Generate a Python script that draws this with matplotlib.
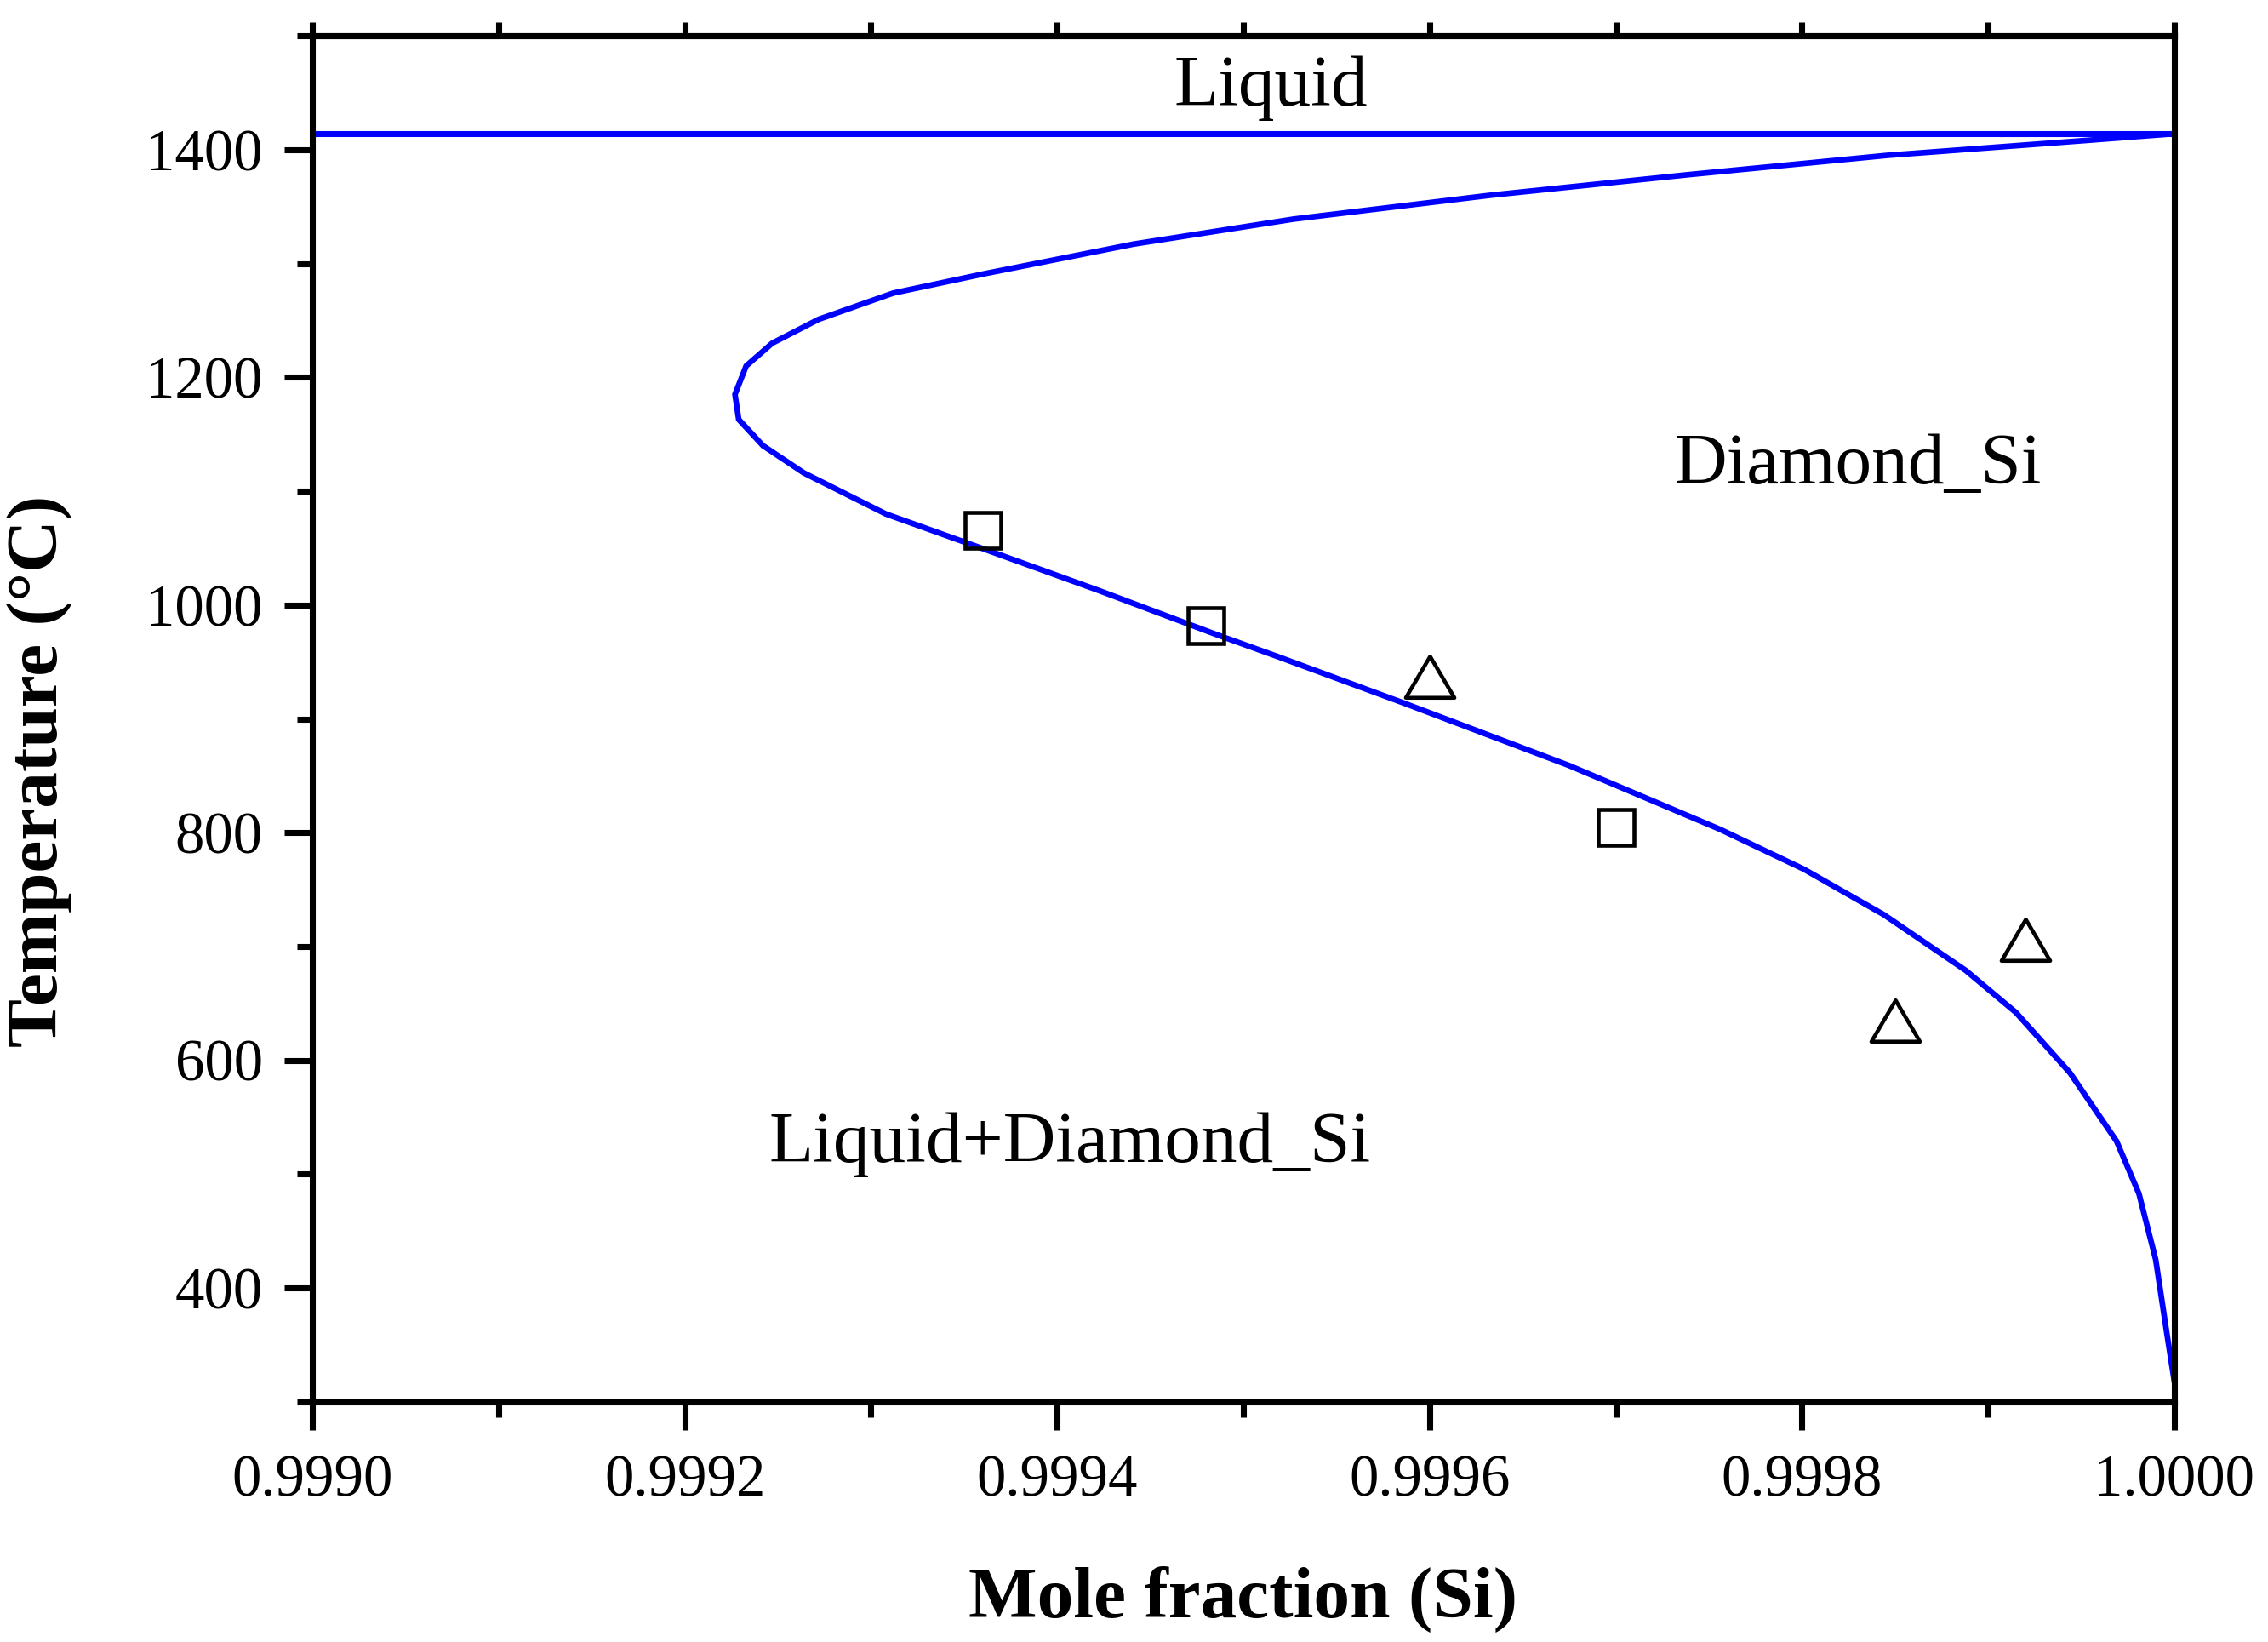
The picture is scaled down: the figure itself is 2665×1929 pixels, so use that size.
import matplotlib
matplotlib.use("Agg")
import matplotlib.pyplot as plt
import numpy as np
from matplotlib.path import Path
from matplotlib.ticker import MultipleLocator, FormatStrFormatter

plt.rcParams['font.family'] = ['Liberation Serif', 'DejaVu Serif']

# solidus of Diamond_Si (lower branch up through the nose to the top)
solidus_x = [1.000000, 0.999996, 0.999990, 0.999981, 0.999969, 0.999944, 0.999915,
             0.999888, 0.999844, 0.999801, 0.999756, 0.999675, 0.999586, 0.999518,
             0.999484, 0.999422, 0.999361, 0.999308, 0.999264, 0.999242, 0.999229,
             0.999227, 0.999233, 0.999247, 0.999272, 0.999312, 0.999361, 0.999441,
             0.999527, 0.999633, 0.999739, 0.999846, 0.999952, 1.000000]
solidus_t = [318, 360, 425, 483, 529, 589, 642,
             679, 728, 768, 803, 859, 914, 955,
             975, 1013, 1049, 1080, 1116, 1140, 1163,
             1185, 1210, 1230, 1251, 1274, 1291, 1317,
             1339, 1360, 1378, 1395, 1408, 1414]

# liquidus (Si melting point)
liquidus_x = [0.9990, 1.0000]
liquidus_t = [1414, 1414]

# experimental points
square_x = [0.99936, 0.99948, 0.99970]
square_t = [1066, 982, 805]
triangle_x = [0.99960, 0.99985, 0.99992]
triangle_t = [937, 635, 706]

DPI = 300
fig = plt.figure(figsize=(2665 / DPI, 1929 / DPI), dpi=DPI)
ax = fig.add_axes([0.1377, 0.1462, 0.8210, 0.8320])

ax.plot(liquidus_x, liquidus_t, color='#0000ff', lw=1.7, solid_capstyle='butt')
ax.plot(solidus_x, solidus_t, color='#0000ff', lw=1.6, solid_joinstyle='miter')

ax.plot(square_x, square_t, ls='none', marker='s', ms=10, mfc='none',
        mec='black', mew=1.1)
# slightly flattened open triangle
tri = Path([(-1, -0.85), (1, -0.85), (0, 0.85), (-1, -0.85)],
           [Path.MOVETO, Path.LINETO, Path.LINETO, Path.CLOSEPOLY])
ax.plot(triangle_x, triangle_t, ls='none', marker=tri, ms=13.7, mfc='none',
        mec='black', mew=1.1)

ax.text(0.999515, 1439, 'Liquid', fontsize=20.5, ha='center', va='baseline')
ax.text(0.99983, 1107, 'Diamond_Si', fontsize=20.5, ha='center', va='baseline')
ax.text(0.999407, 511, 'Liquid+Diamond_Si', fontsize=20.5, ha='center', va='baseline')

ax.set_xlim(0.9990, 1.0000)
ax.set_ylim(300, 1500)

ax.xaxis.set_major_locator(MultipleLocator(0.0002))
ax.xaxis.set_minor_locator(MultipleLocator(0.0001))
ax.xaxis.set_major_formatter(FormatStrFormatter('%.4f'))
ax.yaxis.set_minor_locator(MultipleLocator(100))
ax.set_yticks([400, 600, 800, 1000, 1200, 1400])

for sp in ax.spines.values():
    sp.set_linewidth(1.7)

ax.tick_params(which='both', direction='out', width=1.7, top=False, right=False,
               labelsize=16.5)
ax.tick_params(axis='x', pad=7)
ax.tick_params(axis='y', pad=6)
ax.tick_params(which='major', length=8)
ax.tick_params(which='minor', length=4.3)

# short outward ticks along the top
top = ax.secondary_xaxis('top')
top.xaxis.set_major_locator(MultipleLocator(0.0002))
top.xaxis.set_minor_locator(MultipleLocator(0.0001))
top.tick_params(which='both', direction='out', length=3.8, width=1.7, labeltop=False)
top.spines['top'].set_linewidth(1.7)

ax.set_xlabel('Mole fraction (Si)', fontsize=20.5, fontweight='bold')
ax.set_ylabel('Temperature (\u00b0C)', fontsize=20.5, fontweight='bold')
ax.xaxis.set_label_coords(0.5, -0.12)
ax.yaxis.set_label_coords(-0.129, 0.462)

fig.savefig('out.png', dpi=DPI)
